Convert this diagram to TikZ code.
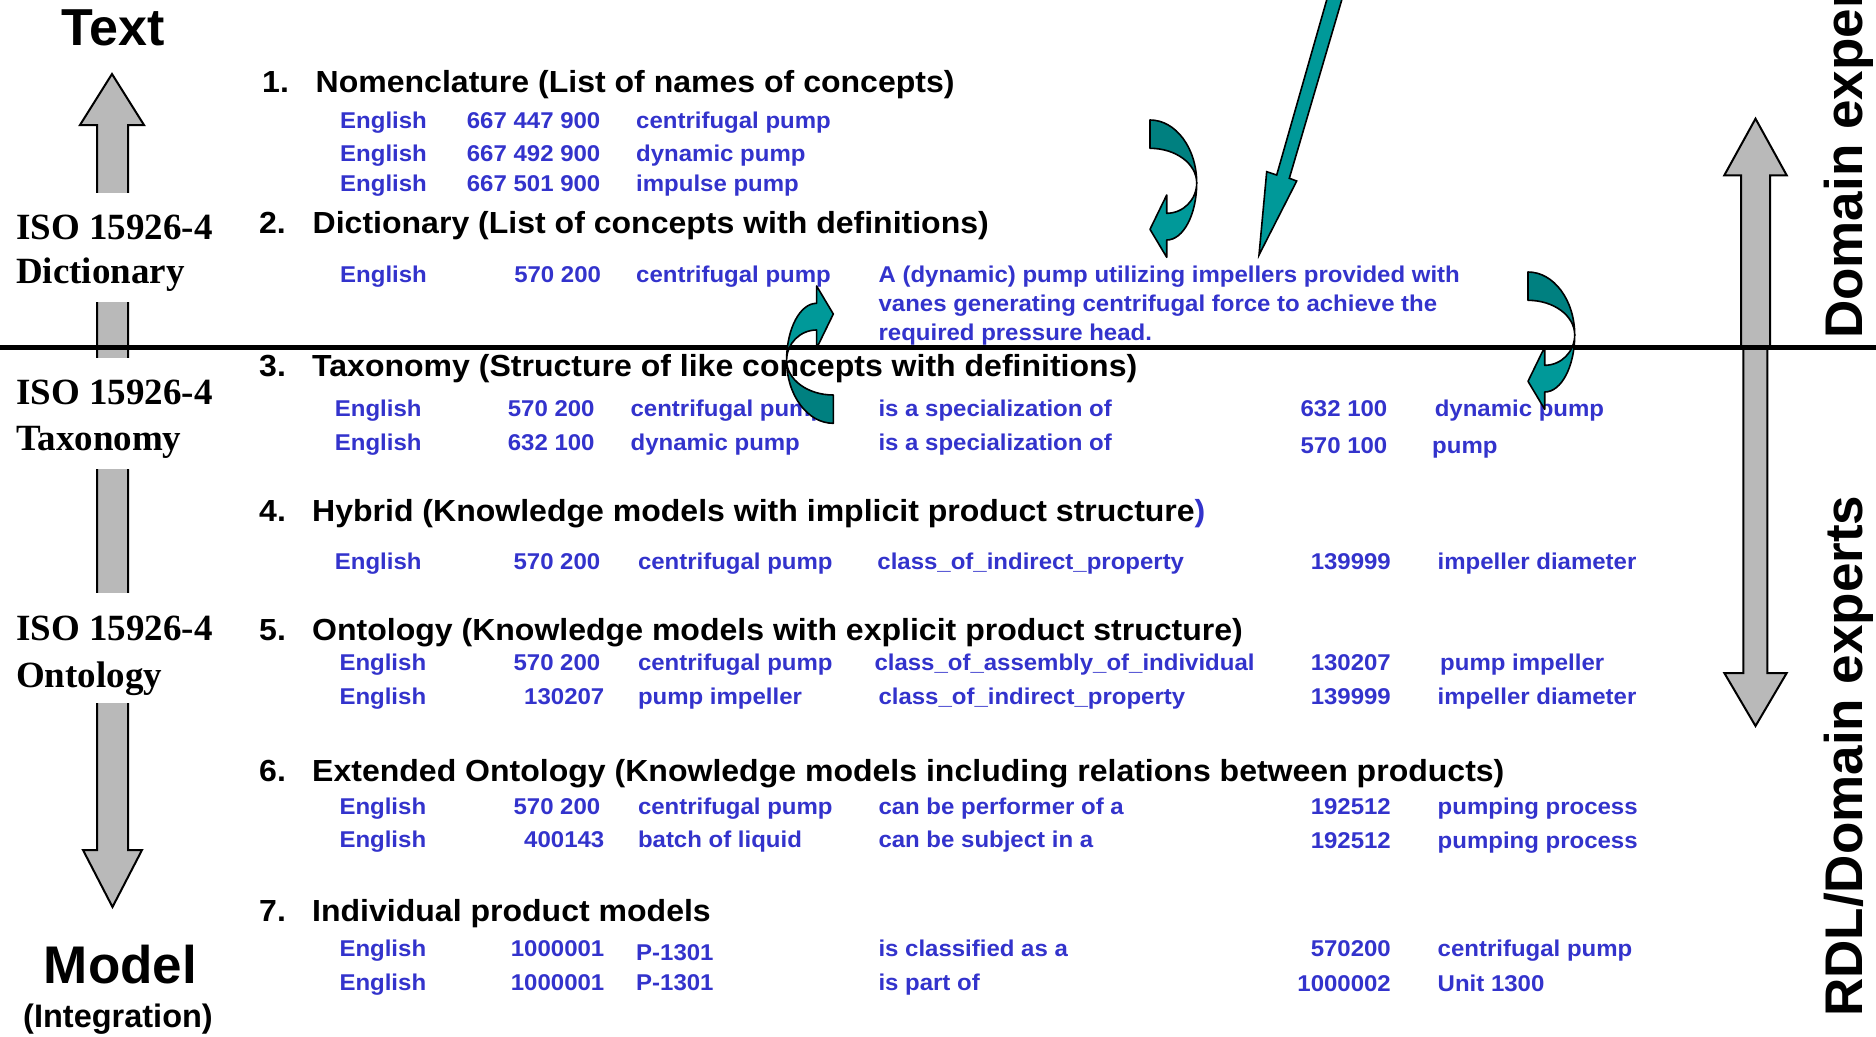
\documentclass[tikz,border=0pt]{standalone}
\usepackage{fontspec}
\setmainfont{Liberation Sans}
\newfontfamily\lstfont{Liberation Sans}[FakeStretch=1.05]
\newfontfamily\isofont{Liberation Serif}
\definecolor{rowblue}{RGB}{51,51,204}
\definecolor{tealdark}{RGB}{0,128,128}
\definecolor{teallight}{RGB}{0,153,153}
\definecolor{shaftgray}{RGB}{185,185,185}
\tikzset{
  hd/.style={anchor=base west, inner sep=0pt, font=\lstfont\fontsize{30.5}{36}\selectfont\bfseries},
  bl/.style={anchor=base west, inner sep=0pt, text=rowblue, font=\lstfont\fontsize{22.85}{28.7}\selectfont\bfseries},
  br/.style={bl, anchor=base east},
  iso/.style={anchor=base west, inner sep=0pt, font=\isofont\fontsize{37}{44}\selectfont\bfseries},
  big/.style={anchor=base, inner sep=0pt, font=\fontsize{52}{60}\selectfont\bfseries},
  rot/.style={rotate=90, anchor=base west, inner sep=0pt, font=\fontsize{53}{60}\selectfont\bfseries},
  blockarrow/.style={fill=shaftgray, draw=black, line width=2pt, line join=miter},
  tealedge/.style={draw=black, line width=1.6pt, line join=round},
  bentarrow/.pic={
    % twisted ribbon: back face on top, front face ending in the head
    \filldraw[fill=tealdark, tealedge] (0,0) .. controls (25.8,0) and (46.7,28.2) .. (46.7,63)
      .. controls (46.7,43.8) and (25.8,28.3) .. (0,28.3) -- cycle;
    \filldraw[fill=teallight, tealedge] (46.7,63) .. controls (46.7,94.5) and (33.3,120) .. (16.7,120)
      -- (16.7,137.3) -- (0,109.3) -- (16.7,75) -- (16.7,93.3)
      .. controls (33.3,93.3) and (46.7,79.6) .. (46.7,63) -- cycle;
  }
}
\begin{document}
\begin{tikzpicture}[x=1pt,y=-1pt]
\useasboundingbox (0,0) rectangle (1876,1036);

% grey block arrows
\draw[blockarrow] (97,347) -- (97,125) -- (80,125) -- (112,74) -- (144,125) -- (128,125) -- (128,347) -- cycle;
\draw[blockarrow] (97,347) -- (97,850) -- (83,850) -- (112.5,907) -- (142,850) -- (128,850) -- (128,347) -- cycle;
\draw[blockarrow] (1741,347) -- (1741,175.3) -- (1724.3,175.3) -- (1755.5,118.7) -- (1786.7,175.3) -- (1770,175.3) -- (1770,347) -- cycle;
\draw[blockarrow] (1743.3,347) -- (1743.3,673) -- (1724.3,673) -- (1755.5,726) -- (1786.7,673) -- (1767.3,673) -- (1767.3,347) -- cycle;

% white ground behind the standard labels
\fill[white] (10,193) rectangle (216,302);
\fill[white] (10,358) rectangle (216,469);
\fill[white] (10,593) rectangle (216,703);

% divider
\draw[line width=5pt] (0,347) -- (1876,347);

% left column
\node[big] (text) at (113.5,45) {Text};
\node[iso] (isoD1) at (16,239) {ISO 15926-4};
\node[iso] (isoD2) at (16,283) {Dictionary};
\node[iso] (isoT1) at (16,404) {ISO 15926-4};
\node[iso] (isoT2) at (16,450) {Taxonomy};
\node[iso] (isoO1) at (16,640) {ISO 15926-4};
\node[iso] (isoO2) at (16,687) {Ontology};
\node[big, font=\fontsize{53}{60}\selectfont\bfseries] (model) at (120.5,983) {Model};
\node[big, font=\fontsize{32.5}{38}\selectfont\bfseries] (integ) at (118,1027) {(Integration)};

% right column
\node[rot] (dexp) at (1862,339) {Domain experts};
\node[rot] (rdl) at (1862,1017) {RDL/Domain experts};

% 1
\node[hd] (h1n) at (262,92.3) {1.};
\node[hd] (h1t) at (315.5,92.3) {Nomenclature (List of names of concepts)};
\node[bl] (a1) at (340,128.3) {English};
\node[bl] (a2) at (466.7,128.3) {667 447 900};
\node[bl] (a3) at (636,128.3) {centrifugal pump};
\node[bl] (b1) at (340,161.7) {English};
\node[bl] (b2) at (466.7,161.7) {667 492 900};
\node[bl] (b3) at (636,161.7) {dynamic pump};
\node[bl] (c1) at (340,191.7) {English};
\node[bl] (c2) at (466.7,191.7) {667 501 900};
\node[bl] (c3) at (636,191.7) {impulse pump};

% 2
\node[hd] (h2n) at (258.8,233.3) {2.};
\node[hd] (h2t) at (312.5,233.3) {Dictionary (List of concepts with definitions)};
\node[bl] (d1) at (340,282) {English};
\node[br] (d2) at (601.2,282) {570 200};
\node[bl] (d3) at (636,282) {centrifugal pump};
\node[bl] (def1) at (878.4,282.5) {A (dynamic) pump utilizing impellers provided with};
\node[bl] (def2) at (878.4,311.5) {vanes generating centrifugal force to achieve the};
\node[bl] (def3) at (878.4,340.5) {required pressure head.};

% 3
\node[hd] (h3n) at (259,376.7) {3.};
\node[hd] (h3t) at (312,376.7) {Taxonomy (Structure of like concepts with definitions)};
\node[bl] (e1) at (334.7,416) {English};
\node[br] (e2) at (594.8,416) {570 200};
\node[bl] (e3) at (630.4,416) {centrifugal pump};
\node[bl] (e4) at (878.3,416) {is a specialization of};
\node[br] (e5) at (1387.5,416.5) {632 100};
\node[bl] (e6) at (1434.6,416.5) {dynamic pump};
\node[bl] (f1) at (334.7,450) {English};
\node[br] (f2) at (594.8,450) {632 100};
\node[bl] (f3) at (630.4,450) {dynamic pump};
\node[bl] (f4) at (878.3,450) {is a specialization of};
\node[br] (f5) at (1387.5,453) {570 100};
\node[bl] (f6) at (1432,453) {pump};

% 4
\node[hd] (h4n) at (259,521.7) {4.};
\node[hd] (h4t) at (312,521.7) {Hybrid (Knowledge models with implicit product structure\textcolor{rowblue}{)}};
\node[bl] (g1) at (334.7,569.5) {English};
\node[br] (g2) at (600.5,569.5) {570 200};
\node[bl] (g3) at (637.8,569.5) {centrifugal pump};
\node[bl] (g4) at (877.2,569.5) {class\_of\_indirect\_property};
\node[br] (g5) at (1391,569.5) {139999};
\node[bl] (g6) at (1437.5,569.5) {impeller diameter};

% 5
\node[hd] (h5n) at (259,640) {5.};
\node[hd] (h5t) at (312,640) {Ontology (Knowledge models with explicit product structure)};
\node[bl] (i1) at (339.3,670.3) {English};
\node[br] (i2) at (600.5,670.3) {570 200};
\node[bl] (i3) at (637.8,670.3) {centrifugal pump};
\node[bl] (i4) at (874.3,670.3) {class\_of\_assembly\_of\_individual};
\node[br] (i5) at (1391,670.3) {130207};
\node[bl] (i6) at (1440,670.3) {pump impeller};
\node[bl] (j1) at (339.3,704.2) {English};
\node[br] (j2) at (604.5,704.2) {130207};
\node[bl] (j3) at (637.8,704.2) {pump impeller};
\node[bl] (j4) at (878.3,704.2) {class\_of\_indirect\_property};
\node[br] (j5) at (1391,704.2) {139999};
\node[bl] (j6) at (1437.5,704.2) {impeller diameter};

% 6
\node[hd] (h6n) at (259,781.7) {6.};
\node[hd] (h6t) at (312,781.7) {Extended Ontology (Knowledge models including relations between products)};
\node[bl] (k1) at (339.3,814) {English};
\node[br] (k2) at (600.5,814) {570 200};
\node[bl] (k3) at (637.8,814) {centrifugal pump};
\node[bl] (k4) at (878.3,814) {can be performer of a};
\node[br] (k5) at (1391,814) {192512};
\node[bl] (k6) at (1437.5,814) {pumping process};
\node[bl] (l1) at (339.3,847.5) {English};
\node[br] (l2) at (604.5,847.5) {400143};
\node[bl] (l3) at (637.8,847.5) {batch of liquid};
\node[bl] (l4) at (878.3,847.5) {can be subject in a};
\node[br] (l5) at (1391,848.5) {192512};
\node[bl] (l6) at (1437.5,848.5) {pumping process};

% 7
\node[hd] (h7n) at (259,921.7) {7.};
\node[hd] (h7t) at (312,921.7) {Individual product models};
\node[bl] (m1) at (339.3,956.7) {English};
\node[br] (m2) at (604.5,956.7) {1000001};
\node[bl] (m3) at (636,960) {P-1301};
\node[bl] (m4) at (878.3,956.7) {is classified as a};
\node[br] (m5) at (1391,956.7) {570200};
\node[bl] (m6) at (1437.5,956.7) {centrifugal pump};
\node[bl] (n1) at (339.3,990.5) {English};
\node[br] (n2) at (604.5,990.5) {1000001};
\node[bl] (n3) at (636,990.5) {P-1301};
\node[bl] (n4) at (878.3,990.5) {is part of};
\node[br] (n5) at (1391,991.5) {1000002};
\node[bl] (n6) at (1437.5,991.5) {Unit 1300};

% teal pointers
\filldraw[fill=teallight, tealedge, line join=miter] (1332.4,-20) -- (1276.7,175) -- (1266.7,171.7) -- (1259,255)
  -- (1296.7,181) -- (1289.3,178.3) -- (1347.6,-20) -- cycle;
\pic at (1150,120) {bentarrow};
\pic at (1528,272) {bentarrow};
\pic[rotate=180] at (833.3,423.3) {bentarrow};
\end{tikzpicture}
\end{document}
